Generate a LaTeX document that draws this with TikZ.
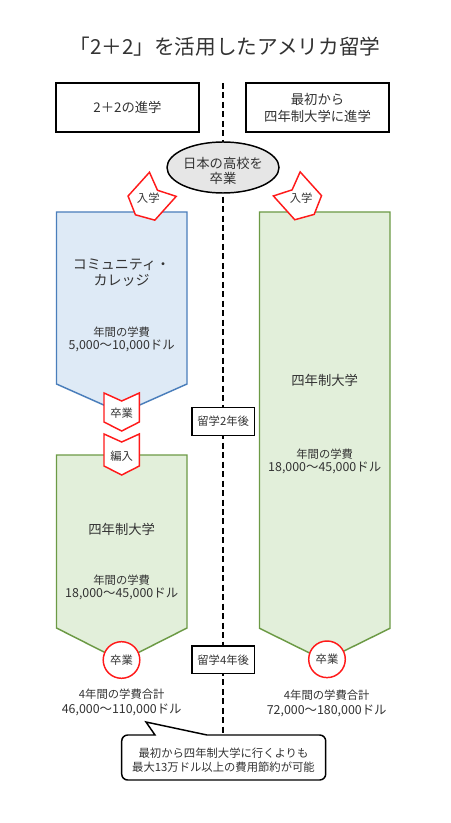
\documentclass[tikz,border=0pt]{standalone}
\usepackage{fontspec}
\setmainfont{Noto Sans CJK JP}
\usetikzlibrary{shapes.geometric}
\definecolor{textc}{HTML}{333333}
\definecolor{ccfill}{HTML}{DEEAF6}
\definecolor{ccline}{HTML}{4A7EBB}
\definecolor{unifill}{HTML}{E2EFDA}
\definecolor{uniline}{HTML}{6C9A45}
\definecolor{tagred}{HTML}{FF1A1A}
\definecolor{ellfill}{HTML}{E6E6E6}
\newcommand{\numline}{\fontsize{9.3}{9.75}\selectfont}
\begin{document}
\begin{tikzpicture}[x=0.75pt,y=-0.75pt,
  every node/.style={text=textc, align=center, inner sep=0pt},
  fsmall/.style={font=\fontsize{8.5}{10}\selectfont},
  fmid/.style={font=\fontsize{10}{12.75}\selectfont},
  hdr/.style={draw=black, line width=1.2pt, minimum width=107.25pt, minimum height=36.75pt, fmid},
  yrbox/.style={draw=black, fill=white, line width=1.1pt, minimum width=46.7pt, minimum height=20.85pt, fsmall},
  ccbox/.style={draw=ccline, fill=ccfill, line width=1.1pt, line join=miter},
  unibox/.style={draw=uniline, fill=unifill, line width=1.1pt, line join=miter},
  redtag/.style={draw=tagred, fill=white, line width=1.1pt, line join=miter},
  gradcircle/.style={circle, draw=tagred, fill=white, line width=1.1pt, minimum size=27.45pt, fsmall},
  divider/.style={line width=1.5pt, dash pattern=on 4.5pt off 2.6pt},
  callout/.style={draw=black, fill=white, line width=1.1pt},
  costtxt/.style={font=\fontsize{8.5}{9.75}\selectfont}
]
\useasboundingbox (0,0) rectangle (450,823);
\fill[white] (0,0) rectangle (450,823);

% title
\node[font=\fontsize{15.5}{18}\selectfont] (title) at (225,47) {「2＋2」を活用したアメリカ留学};

% divider
\coordinate (dtop) at (222.7,83);
\coordinate (dbot) at (222.7,782);
\draw[divider] (dtop) -- (dbot);

% headers
\node[hdr] (hl) at (127.5,107.5) {2＋2の進学};
\node[hdr] (hr) at (317.5,107.5) {最初から\\四年制大学に進学};

% start ellipse
\node[ellipse, draw=black, fill=ellfill, line width=1.1pt, minimum width=84pt, minimum height=38.25pt] (hs) at (223,167.5) {};
\node[font=\fontsize{10}{11.25}\selectfont] (hstxt) at (223,170.5) {日本の高校を\\卒業};

% community college
\draw[ccbox] (56.5,212) -- (187,212) -- (187,384) -- (121.7,413) -- (56.5,384) -- cycle;
\node[font=\fontsize{10.5}{12}\selectfont] (ccname) at (121.5,273) {コミュニティ・\\カレッジ};
\node[costtxt] (cccost) at (121.7,339.5) {年間の学費\\\numline 5,000〜10,000ドル};

% left university
\draw[unibox] (56.5,455) -- (187,455) -- (187,628) -- (121.7,661) -- (56.5,628) -- cycle;
\node[fmid] (ulname) at (121.7,529) {四年制大学};
\node[costtxt] (ulcost) at (121.7,587.5) {年間の学費\\\numline 18,000〜45,000ドル};

% right university
\draw[unibox] (259.5,212) -- (390,212) -- (390,628.3) -- (324.7,660.5) -- (259.5,628.3) -- cycle;
\node[fmid] (urname) at (324.7,380) {四年制大学};
\node[costtxt] (urcost) at (324.7,461.5) {年間の学費\\\numline 18,000〜45,000ドル};

% chevrons between
\draw[redtag] (104,393) -- (121.7,401) -- (139.3,393) -- (139.3,422) -- (121.7,431) -- (104,422) -- cycle;
\node[fsmall] (grad1) at (121.7,413) {卒業};
\draw[redtag] (104,434) -- (121.7,442) -- (139.3,434) -- (139.3,466) -- (121.7,475) -- (104,466) -- cycle;
\node[fsmall] (transfer) at (121.7,456) {編入};

% entry tags
\begin{scope}[shift={(150.8,197.7)}, rotate=-42]
\draw[redtag] (-18,-18) -- (0,-10) -- (18,-18) -- (18,14) -- (0,23) -- (-18,14) -- cycle;
\end{scope}
\node[fsmall] (entl) at (148.3,198.3) {入学};
\begin{scope}[shift={(298.8,197.3)}, rotate=42]
\draw[redtag] (-18,-18) -- (0,-10) -- (18,-18) -- (18,14) -- (0,23) -- (-18,14) -- cycle;
\end{scope}
\node[fsmall] (entr) at (301.2,198.3) {入学};

% graduation circles
\node[gradcircle] (gl) at (121.5,660) {卒業};
\node[gradcircle] (gr) at (327,659.3) {卒業};

% year boxes
\node[yrbox] (y2) at (223.2,421.4) {留学2年後};
\node[yrbox] (y4) at (223.2,659.7) {留学4年後};

% totals
\node[font=\fontsize{8.5}{11.25}\selectfont] (totl) at (121.7,702.5) {4年間の学費合計\\\fontsize{9.3}{11.25}\selectfont 46,000〜110,000ドル};
\node[font=\fontsize{8.5}{11.25}\selectfont] (totr) at (326.7,703.5) {4年間の学費合計\\\fontsize{9.3}{11.25}\selectfont 72,000〜180,000ドル};

% callout
\draw[callout] (207,735) -- (319.7,735) arc[start angle=-90, end angle=0, radius=6]
  -- (325.7,774) arc[start angle=0, end angle=90, radius=6]
  -- (127.7,780) arc[start angle=90, end angle=180, radius=6]
  -- (121.7,741) arc[start angle=180, end angle=270, radius=6]
  -- (155,735) -- (146,722) -- cycle;
\node[font=\fontsize{8.5}{10.5}\selectfont] (note) at (223.5,759.7) {最初から四年制大学に行くよりも\\最大13万ドル以上の費用節約が可能};
\end{tikzpicture}
\end{document}
